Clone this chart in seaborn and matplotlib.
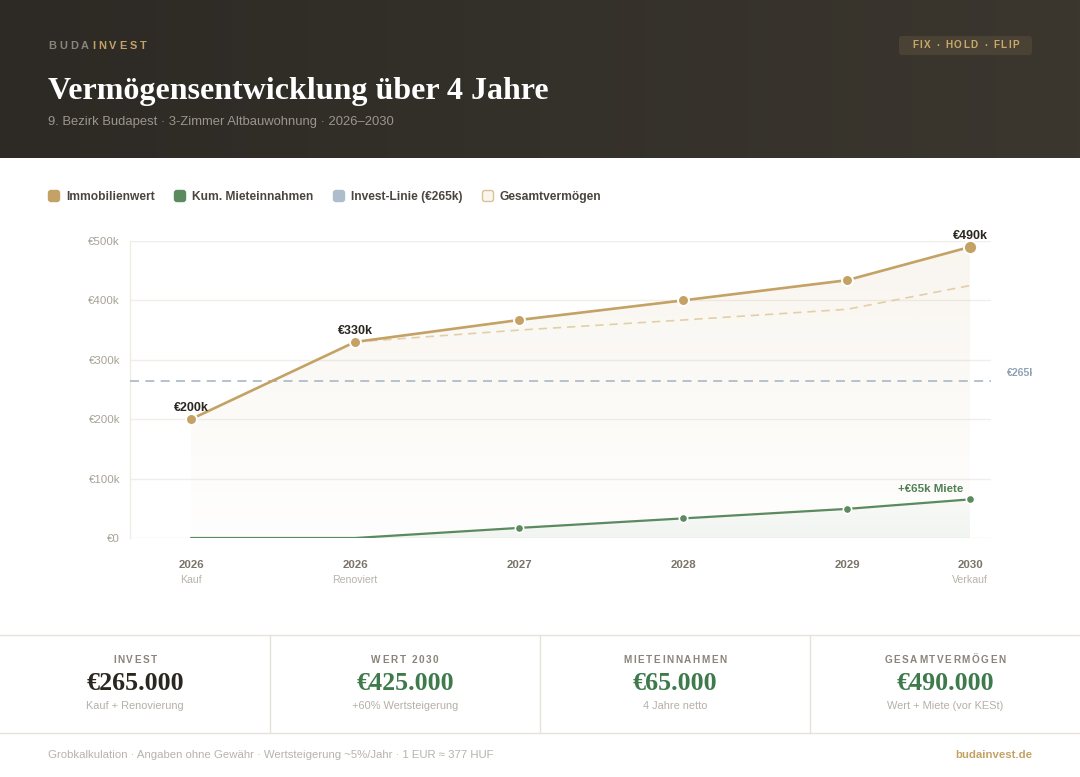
import numpy as np
import pandas as pd
import matplotlib
matplotlib.use('Agg')
import matplotlib.pyplot as plt
import matplotlib.colors as mcolors
import seaborn as sns
from matplotlib.patches import FancyBboxPatch, Rectangle

# --- data (values in k EUR) ---
stage_years = ['2026', '2026', '2027', '2028', '2029', '2030']
stage_notes = ['Kauf', 'Renoviert', '', '', '', 'Verkauf']
stage_pos = [0, 1, 2, 3, 4, 4.75]
gesamt_k = [200, 330, 367, 400, 434, 490]
wert_k = [np.nan, 330, 350, 367, 385, 425]
miete_k = [0, 0, 17, 33, 49, 65]
invest_k = 265
y_ticks = [0, 100, 200, 300, 400, 500]
point_labels = {0: '€200k', 1: '€330k', 5: '€490k'}

legend_names = ['Immobilienwert', 'Kum. Mieteinnahmen', 'Invest-Linie (€265k)', 'Gesamtvermögen']
stat_titles = ['INVEST', 'WERT 2030', 'MIETEINNAHMEN', 'GESAMTVERMÖGEN']
stat_values = ['€265.000', '€425.000', '€65.000', '€490.000']
stat_notes = ['Kauf + Renovierung', '+60% Wertsteigerung', '4 Jahre netto', 'Wert + Miete (vor KESt)']

GOLD = '#c4a265'
GREEN = '#5a8a5e'
INVEST_C = '#aebdcb'
DARK = '#2a2620'

sns.set_theme(style='white')
plt.rcParams['font.family'] = ['Liberation Sans', 'DejaVu Sans']
SERIF = ['Liberation Serif', 'DejaVu Serif']

W, H = 1080, 777
fig = plt.figure(figsize=(W / 100, H / 100), dpi=100)
fig.patch.set_facecolor('white')
renderer = fig.canvas.get_renderer()

# overlay axes in pixel coordinates
bg = fig.add_axes([0, 0, 1, 1])
bg.set_xlim(0, W)
bg.set_ylim(H, 0)
bg.axis('off')


def pt(px):
    return px * 0.72


def spaced(x, y, s, spacing, ha='left', **kw):
    widths = []
    for ch in s:
        if ch == ' ':
            widths.append(kw.get('fontsize', 8) / 0.72 * 0.28)
            continue
        t = bg.text(0, 0, ch, **kw)
        widths.append(t.get_window_extent(renderer).width)
        t.remove()
    total = sum(widths) + spacing * (len(s) - 1)
    if ha == 'center':
        x -= total / 2
    elif ha == 'right':
        x -= total
    for ch, w in zip(s, widths):
        if ch != ' ':
            bg.text(x, y, ch, ha='left', va='center', **kw)
        x += w + spacing
    return x


# header band with soft gradient
grad = np.linspace(0, 1, 256)[None, :]
hdr_cmap = mcolors.LinearSegmentedColormap.from_list('hdr', ['#2d2a25', '#3b372f'])
bg.imshow(grad, cmap=hdr_cmap, extent=[0, W, 158, 0], aspect='auto', zorder=0)
bg.set_xlim(0, W)
bg.set_ylim(H, 0)

x_end = spaced(48, 46, 'BUDA', 3.0, color='#8a857c', fontsize=pt(11), fontweight='bold')
spaced(x_end, 46, 'INVEST', 3.0, color=GOLD, fontsize=pt(11), fontweight='bold')

bg.add_patch(FancyBboxPatch((899, 36), 133, 19, boxstyle='round,pad=0,rounding_size=3',
                            facecolor='#4a4234', edgecolor='none', zorder=1))
spaced(965.5, 45.5, 'FIX · HOLD · FLIP', 1.5, ha='center', color='#c9a96a',
       fontsize=pt(10), fontweight='bold', zorder=2)

bg.text(48, 92, 'Vermögensentwicklung über 4 Jahre', color='white', fontsize=pt(32),
        fontweight='bold', family=SERIF, va='center', ha='left')
bg.text(48, 122.5, '9. Bezirk Budapest · 3-Zimmer Altbauwohnung · 2026–2030', color='#9b968d',
        fontsize=pt(13), va='center', ha='left')

# legend
legend_x = [48, 174, 333, 482]
legend_fc = [GOLD, GREEN, INVEST_C, '#faf6ee']
legend_ec = [GOLD, GREEN, INVEST_C, '#d8c39a']
for lx, name, fc, ec in zip(legend_x, legend_names, legend_fc, legend_ec):
    bg.add_patch(FancyBboxPatch((lx + 0.5, 190.5), 11, 11, boxstyle='round,pad=0,rounding_size=2.5',
                                facecolor=fc, edgecolor=ec, linewidth=1))
    bg.text(lx + 18, 197, name, color='#4a453e', fontsize=pt(12), fontweight='bold',
            va='center', ha='left')

# stats row
bg.plot([0, W], [634.5, 634.5], color='#e6e3dd', lw=1)
bg.plot([0, W], [732.5, 732.5], color='#e6e3dd', lw=1)
for vx in [269.5, 539.5, 809.5]:
    bg.plot([vx, vx], [634.5, 732.5], color='#e6e3dd', lw=1)
for i, (t, v, n) in enumerate(zip(stat_titles, stat_values, stat_notes)):
    cx = 135 + 270 * i
    spaced(cx, 660, t, 1.6, ha='center', color='#8a847a', fontsize=pt(10), fontweight='bold')
    bg.text(cx, 684, v, color=DARK if i == 0 else '#3e7a4c', fontsize=pt(26), fontweight='bold',
            family=SERIF, ha='center', va='center')
    bg.text(cx, 706, n, color='#b5b0a8', fontsize=pt(11), ha='center', va='center')

# footer
bg.text(48, 755, 'Grobkalkulation · Angaben ohne Gewähr · Wertsteigerung ~5%/Jahr · 1 EUR ≈ 377 HUF',
        color='#b8b3aa', fontsize=pt(11.4), ha='left', va='center')
bg.text(1032, 755, 'budainvest.de', color=GOLD, fontsize=pt(11.4), fontweight='bold',
        ha='right', va='center')

# invest label to the right of the plot (cut at the content edge as in the original)
bg.text(1007, 373, '€265k', color='#8fa2b4', fontsize=pt(10.5), fontweight='bold',
        ha='left', va='center')
bg.add_patch(Rectangle((1032, 360), 48, 25, facecolor='white', edgecolor='none', zorder=5))

# --- chart ---
ax = fig.add_axes([130 / W, 1 - 538 / H, 861 / W, 297 / H])
ax.set_facecolor('none')


def gradient_fill(x, y, color, a_top, a_bot, zorder):
    poly = ax.fill_between(x, y, 0, color='none', lw=0)
    rgb = mcolors.to_rgb(color)
    g = np.zeros((200, 1, 4))
    g[:, :, :3] = rgb
    g[:, 0, 3] = np.linspace(a_top, a_bot, 200)
    im = ax.imshow(g, aspect='auto', extent=[min(x), max(x), 0, max(y)], origin='upper',
                   zorder=zorder, interpolation='bilinear')
    im.set_clip_path(poly.get_paths()[0], transform=ax.transData)


df = pd.DataFrame({'pos': stage_pos, 'gesamt': gesamt_k, 'wert': wert_k, 'miete': miete_k})

gradient_fill(stage_pos, gesamt_k, GOLD, 0.10, 0.01, 1)
gradient_fill(stage_pos, miete_k, GREEN, 0.03, 0.08, 2)

for v in y_ticks:
    ax.axhline(v, color='#f1eee9', lw=1, zorder=0)
ax.axhline(invest_k, color=INVEST_C, lw=1.3, dashes=(5, 3.5), zorder=3)

sns.lineplot(data=df, x='pos', y='wert', ax=ax, color='#e2cfa8', lw=1.2, dashes=False,
             zorder=4).lines[-1].set_dashes((5, 3.5))
sns.lineplot(data=df, x='pos', y='miete', ax=ax, color=GREEN, lw=1.6, zorder=5)
sns.lineplot(data=df, x='pos', y='gesamt', ax=ax, color=GOLD, lw=1.9, zorder=6)

gold_pts = df.iloc[:-1]
sns.scatterplot(data=gold_pts, x='pos', y='gesamt', ax=ax, color=GOLD, s=62,
                edgecolor='white', linewidth=1.4, zorder=7)
sns.scatterplot(data=df.iloc[-1:], x='pos', y='gesamt', ax=ax, color=GOLD, s=90,
                edgecolor='white', linewidth=1.4, zorder=7)
sns.scatterplot(data=df[df['miete'] > 0], x='pos', y='miete', ax=ax, color=GREEN, s=36,
                edgecolor='white', linewidth=1.2, zorder=7)

for i, lab in point_labels.items():
    ax.annotate(lab, (stage_pos[i], gesamt_k[i]), xytext=(0, 11), textcoords='offset pixels',
                ha='center', va='center', fontsize=pt(12.5), fontweight='bold', color=DARK,
                annotation_clip=False, zorder=8)
ax.annotate(f'+€{miete_k[-1]}k Miete', (stage_pos[-1], miete_k[-1]), xytext=(-7, 10.5),
            textcoords='offset pixels', ha='right', va='center', fontsize=pt(11.5),
            fontweight='bold', color='#4f8055', annotation_clip=False, zorder=8)

ax.set_xlim(-0.372, 4.878)
ax.set_ylim(0, 500)
ax.set_yticks(y_ticks)
ax.set_yticklabels([f'€{v}k' if v else '€0' for v in y_ticks])
ax.set_xticks(stage_pos)
ax.set_xticklabels(stage_years, fontweight='bold')
ax.tick_params(axis='y', length=0, pad=pt(10), colors='#a8a297', labelsize=pt(11.5))
ax.tick_params(axis='x', length=0, pad=pt(22), colors='#7a746a', labelsize=pt(11.5))
for p, note in zip(stage_pos, stage_notes):
    if note:
        ax.annotate(note, (p, 0), xycoords=('data', 'axes fraction'), xytext=(0, -42),
                    textcoords='offset pixels', ha='center', va='center', fontsize=pt(10.5),
                    color='#b8b3aa', annotation_clip=False)
ax.set_xlabel('')
ax.set_ylabel('')
ax.grid(False)
for s in ['top', 'right', 'bottom']:
    ax.spines[s].set_visible(False)
ax.spines['left'].set_color('#efece6')
ax.spines['left'].set_linewidth(1)

fig.savefig('out.png', dpi=100, facecolor='white')
